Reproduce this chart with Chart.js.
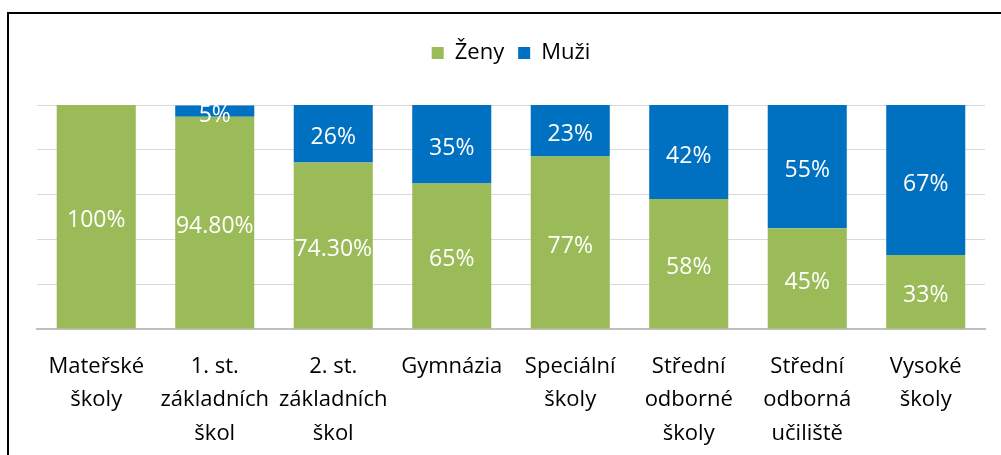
<!DOCTYPE html>
<html>
<head>
<meta charset="utf-8">
<script src="https://cdn.jsdelivr.net/npm/chart.js@4/dist/chart.umd.min.js"></script>
<style>
  html, body { margin: 0; padding: 0; background: #fff; overflow: hidden; }
  #wrap { position: relative; width: 1001px; height: 455px; }
  #frame { position: absolute; left: 7px; top: 12px; width: 1000px; height: 460px;
           border-left: 2px solid #000; border-top: 2px solid #000; pointer-events: none; }
  canvas { position: absolute; left: 0; top: 0; }
</style>
</head>
<body>
<div id="wrap">
  <canvas id="c" width="1001" height="455"></canvas>
  <div id="frame"></div>
</div>
<script>
const categories = [
  ["Mateřské", "školy"],
  ["1. st.", "základních", "škol"],
  ["2. st.", "základních", "škol"],
  ["Gymnázia"],
  ["Speciální", "školy"],
  ["Střední", "odborné", "školy"],
  ["Střední", "odborná", "učiliště"],
  ["Vysoké", "školy"]
];
const zenyValues = [100, 94.8, 74.3, 65, 77, 58, 45, 33];
const muziValues = [0, 5, 26, 35, 23, 42, 55, 67];
const seriesNames = ["Ženy", "Muži"];

function fmt(v) {
  return Number.isInteger(v) ? v + "%" : v.toFixed(2) + "%";
}

const legendSpacer = {
  id: "legendSpacer",
  beforeInit(chart) {
    const lg = chart.legend;
    if (!lg) return;
    const orig = lg.fit;
    lg.fit = function () {
      orig.call(this);
      this.height += 31;
    };
  }
};

const dataLabelPlugin = {
  id: "dataLabels",
  afterDatasetsDraw(chart) {
    const ctx = chart.ctx;
    ctx.save();
    ctx.font = "23px 'Open Sans'";
    ctx.fillStyle = "#ffffff";
    ctx.textAlign = "center";
    ctx.textBaseline = "middle";
    chart.data.datasets.forEach((ds, i) => {
      const meta = chart.getDatasetMeta(i);
      meta.data.forEach((el, j) => {
        const v = ds.data[j];
        if (!v) return;
        const y = (el.y + el.base) / 2 + 4;
        ctx.fillText(fmt(v), el.x, y);
      });
    });
    ctx.restore();
  }
};

new Chart(document.getElementById("c"), {
  type: "bar",
  data: {
    labels: categories,
    datasets: [
      { label: seriesNames[0], data: zenyValues, backgroundColor: "#9BBB59",
        categoryPercentage: 1, barPercentage: 0.667 },
      { label: seriesNames[1], data: muziValues, backgroundColor: "#0070C0",
        categoryPercentage: 1, barPercentage: 0.667 }
    ]
  },
  options: {
    responsive: false,
    animation: false,
    layout: { padding: { left: 37, right: 16, top: 28, bottom: 0 } },
    plugins: {
      legend: {
        position: "top",
        labels: {
          font: { family: "'Open Sans'", size: 22 },
          color: "#000",
          boxWidth: 12,
          boxHeight: 12,
          padding: 14
        }
      },
      tooltip: { enabled: false }
    },
    scales: {
      x: {
        stacked: true,
        grid: { display: false, drawTicks: false },
        border: { display: true, color: "#bfbfbf", width: 2 },
        ticks: {
          font: { family: "'Open Sans'", size: 22, lineHeight: 1.52 },
          color: "#000",
          padding: 21,
          maxRotation: 0,
          minRotation: 0,
          autoSkip: false
        },
        afterFit(scale) { scale.height = 126; }
      },
      y: {
        stacked: true,
        min: 0,
        max: 100,
        ticks: { display: false, stepSize: 20 },
        grid: { color: "#d9d9d9", lineWidth: 1, drawTicks: false },
        border: { display: false },
        afterFit(scale) { scale.width = 0; }
      }
    }
  },
  plugins: [legendSpacer, dataLabelPlugin]
});
</script>
</body>
</html>
